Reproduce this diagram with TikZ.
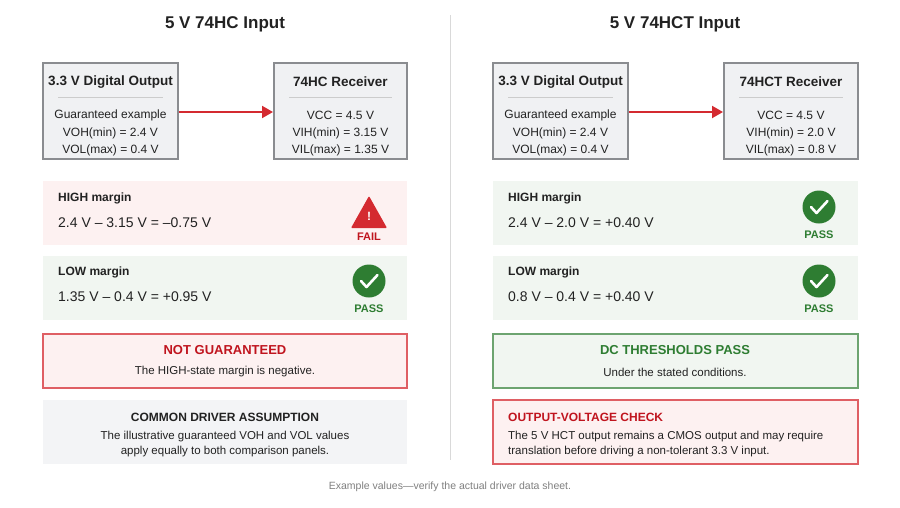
\documentclass[tikz,border=0pt]{standalone}
\usepackage{fontspec}
\setmainfont{Liberation Sans}
\usetikzlibrary{arrows.meta}
\begin{document}
\definecolor{boxg}{HTML}{F0F1F3}\definecolor{boxb}{HTML}{8A8C90}
\definecolor{redc}{HTML}{D42A30}\definecolor{redt}{HTML}{C0141E}
\definecolor{pinkf}{HTML}{FDF1F1}\definecolor{greenf}{HTML}{F1F6F1}
\definecolor{greenc}{HTML}{2E7D32}\definecolor{greyf}{HTML}{F3F4F6}
\definecolor{txt}{HTML}{222222}
\begin{tikzpicture}[x=1pt,y=-1pt,
  every node/.style={text=txt,inner sep=0pt},
  dev/.style={draw=boxb,fill=boxg,line width=1.5pt},
  t/.style={font=\fontsize{12}{14}\selectfont},
  tb/.style={font=\fontsize{13.5}{16}\selectfont\bfseries},
  lab/.style={font=\fontsize{12}{14}\selectfont\bfseries,anchor=west},
  eq/.style={font=\fontsize{14}{16}\selectfont,anchor=west},
  arr/.style={draw=redc,line width=2pt,-{Triangle[length=11pt,width=12pt]}}]
\useasboundingbox (0,0) rectangle (900,507);
\fill[white] (0,0) rectangle (900,507);
\draw[gray!30,line width=1pt] (450,15) -- (450,460);
\node[font=\fontsize{17}{20}\selectfont\bfseries] (tl) at (225,24) {5 V 74HC Input};
\node[font=\fontsize{17}{20}\selectfont\bfseries] (tr) at (675,24) {5 V 74HCT Input};
% devices
\foreach \xa/\xb/\nm/\ti/\la/\lb/\lc in {43/178/dl/{3.3 V Digital Output}/{Guaranteed example}/{VOH(min) = 2.4 V}/{VOL(max) = 0.4 V},
  274/407/rl/{74HC Receiver}/{VCC = 4.5 V}/{VIH(min) = 3.15 V}/{VIL(max) = 1.35 V},
  493/628/dr/{3.3 V Digital Output}/{Guaranteed example}/{VOH(min) = 2.4 V}/{VOL(max) = 0.4 V},
  724/858/rr/{74HCT Receiver}/{VCC = 4.5 V}/{VIH(min) = 2.0 V}/{VIL(max) = 0.8 V}}{
  \draw[dev] (\xa,63) rectangle (\xb,159);
  \node[tb] (\nm) at ({(\xa+\xb)/2},82) {\ti};
  \draw[gray!40,line width=1pt] (\xa+15,97) -- (\xb-15,97);
  \node[t] at ({(\xa+\xb)/2},115) {\la};
  \node[t] at ({(\xa+\xb)/2},133) {\lb};
  \node[t] at ({(\xa+\xb)/2},150) {\lc};
}
\coordinate (a1) at (179,112);\coordinate (a2) at (273,112);
\coordinate (b1) at (629,112);\coordinate (b2) at (723,112);
\draw[arr] (a1) -- (a2);\draw[arr] (b1) -- (b2);
% margin boxes
\fill[pinkf] (43,181) rectangle (407,245);
\fill[greenf] (43,256) rectangle (407,320);
\fill[greenf] (493,181) rectangle (858,245);
\fill[greenf] (493,256) rectangle (858,320);
\node[lab] at (58,198) {HIGH margin};
\node[eq] at (58,223) {2.4 V – 3.15 V = –0.75 V};
\node[lab] at (58,272) {LOW margin};
\node[eq] at (58,297) {1.35 V – 0.4 V = +0.95 V};
\node[lab] at (508,198) {HIGH margin};
\node[eq] at (508,223) {2.4 V – 2.0 V = +0.40 V};
\node[lab] at (508,272) {LOW margin};
\node[eq] at (508,297) {0.8 V – 0.4 V = +0.40 V};
% fail icon
\fill[redc,rounded corners=1pt] (369,196) -- (387,228) -- (351,228) -- cycle;
\node[text=white,font=\fontsize{12}{14}\selectfont\bfseries] at (369,216) {!};
\node[text=redt,font=\fontsize{11}{13}\selectfont\bfseries] at (369,237) {FAIL};
% pass icons
\foreach \cx/\cy in {369/281,819/207,819/281}{
  \fill[greenc] (\cx,\cy) circle (16.5);
  \draw[white,line width=2.6pt,line cap=round,line join=round] (\cx-8,\cy) -- (\cx-2.5,\cy+6) -- (\cx+8.5,\cy-6);
  \node[text=greenc,font=\fontsize{11}{13}\selectfont\bfseries] at (\cx,\cy+28) {PASS};
}
% verdict boxes
\draw[draw=redc!75,fill=pinkf,line width=1.5pt] (43,334) rectangle (407,388);
\node[text=redt,font=\fontsize{13}{15}\selectfont\bfseries] at (225,350) {NOT GUARANTEED};
\node[t,font=\fontsize{11.5}{14}\selectfont] at (225,372) {The HIGH-state margin is negative.};
\draw[draw=greenc!70,fill=greenf,line width=1.5pt] (493,334) rectangle (858,388);
\node[text=greenc,font=\fontsize{13}{15}\selectfont\bfseries] at (675,350) {DC THRESHOLDS PASS};
\node[font=\fontsize{11.5}{14}\selectfont] at (675,372) {Under the stated conditions.};
\fill[greyf] (43,400) rectangle (407,464);
\node[font=\fontsize{12}{14}\selectfont\bfseries] at (225,417) {COMMON DRIVER ASSUMPTION};
\node[font=\fontsize{11.5}{14}\selectfont] at (225,437) {The illustrative guaranteed VOH and VOL values};
\node[font=\fontsize{11.5}{14}\selectfont] at (225,452) {apply equally to both comparison panels.};
\draw[draw=redc!75,fill=pinkf,line width=1.5pt] (493,400) rectangle (858,464);
\node[anchor=west,text=redt,font=\fontsize{12}{14}\selectfont\bfseries] at (508,417) {OUTPUT-VOLTAGE CHECK};
\node[anchor=west,font=\fontsize{11.5}{14}\selectfont] at (508,437) {The 5 V HCT output remains a CMOS output and may require};
\node[anchor=west,font=\fontsize{11.5}{14}\selectfont] at (508,452) {translation before driving a non-tolerant 3.3 V input.};
\node[text=gray,font=\fontsize{10.5}{12}\selectfont] at (450,487) {Example values—verify the actual driver data sheet.};
\end{tikzpicture}
\end{document}
